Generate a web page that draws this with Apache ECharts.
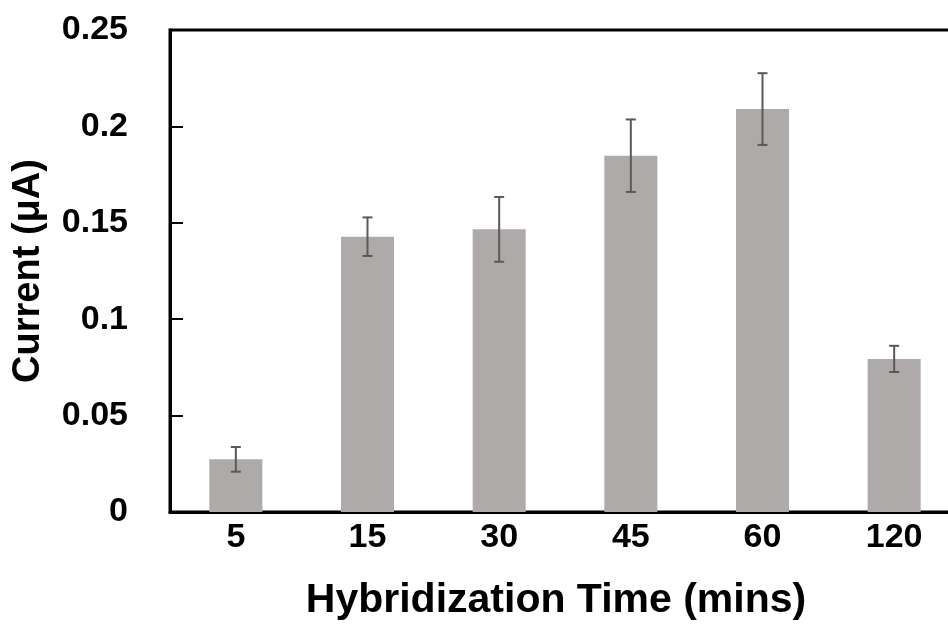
<!DOCTYPE html>
<html>
<head>
<meta charset="utf-8">
<script src="https://cdn.jsdelivr.net/npm/echarts@6/dist/echarts.min.js"></script>
<style>html,body{margin:0;padding:0;background:#fff;}#c{width:948px;height:630px;}</style>
</head>
<body>
<div id="c"></div>
<script>
const categories = ['5', '15', '30', '45', '60', '120'];
const means = [0.0273, 0.1428, 0.1466, 0.1848, 0.2090, 0.0794];
const errors = [0.0064, 0.0100, 0.0168, 0.0188, 0.0186, 0.0068];
const yTicks = { min: 0, max: 0.25, interval: 0.05 };

const chart = echarts.init(document.getElementById('c'));
const FONT = '"Liberation Sans", Arial, sans-serif';
const errData = means.map((m, i) => [i, m - errors[i], m + errors[i]]);

chart.setOption({
  animation: false,
  backgroundColor: '#fff',
  grid: { left: 170, right: -12, top: 30, bottom: 118, show: true, borderColor: '#000', borderWidth: 3,
          containLabel: false, outerBoundsMode: 'none' },
  xAxis: {
    type: 'category',
    data: categories,
    axisLine: { lineStyle: { color: '#000', width: 3 } },
    axisTick: { show: false },
    axisLabel: { color: '#000', fontFamily: FONT, fontWeight: 'bold', fontSize: 34, margin: 9 },
    name: 'Hybridization Time (mins)',
    nameLocation: 'middle',
    nameGap: 68,
    nameTextStyle: { color: '#000', fontFamily: FONT, fontWeight: 'bold', fontSize: 41, padding: [0, 18, 0, 0] }
  },
  yAxis: {
    type: 'value',
    min: yTicks.min, max: yTicks.max, interval: yTicks.interval,
    splitLine: { show: false },
    axisLine: { show: true, lineStyle: { color: '#000', width: 3 } },
    axisTick: { show: true, inside: true, length: 13, lineStyle: { color: '#000', width: 2 } },
    axisLabel: { color: '#000', fontFamily: FONT, fontWeight: 'bold', fontSize: 34, margin: 42 },
    name: 'Current (μA)',
    nameLocation: 'middle',
    nameGap: 122,
    nameTextStyle: { color: '#000', fontFamily: FONT, fontWeight: 'bold', fontSize: 38 }
  },
  series: [
    {
      type: 'bar',
      data: means,
      barWidth: 53,
      itemStyle: { color: '#AEAAAA' }
    },
    {
      type: 'custom',
      data: errData,
      z: 10,
      renderItem: function (params, api) {
        const x = api.value(0);
        const lo = api.coord([x, api.value(1)]);
        const hi = api.coord([x, api.value(2)]);
        const hw = 5;
        const style = { stroke: '#595959', lineWidth: 2 };
        return {
          type: 'group',
          children: [
            { type: 'line', shape: { x1: hi[0], y1: hi[1], x2: lo[0], y2: lo[1] }, style: style },
            { type: 'line', shape: { x1: hi[0] - hw, y1: hi[1], x2: hi[0] + hw, y2: hi[1] }, style: style },
            { type: 'line', shape: { x1: lo[0] - hw, y1: lo[1], x2: lo[0] + hw, y2: lo[1] }, style: style }
          ]
        };
      }
    }
  ]
});
</script>
</body>
</html>
